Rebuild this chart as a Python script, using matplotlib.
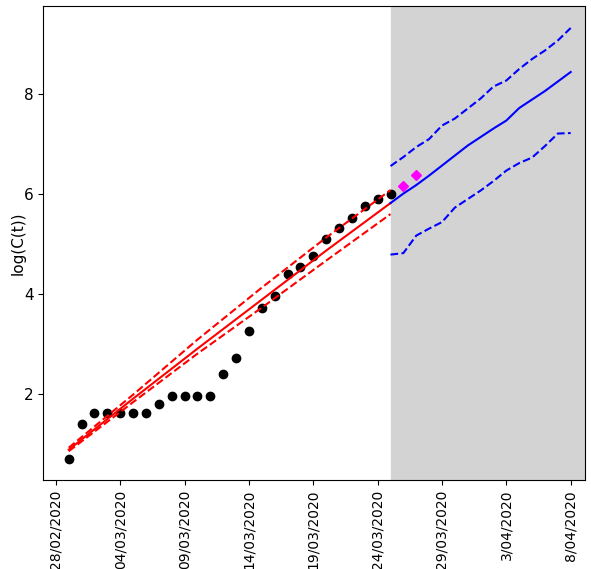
import numpy as np
import matplotlib
matplotlib.use('Agg')
import matplotlib.pyplot as plt

# Dias contados desde 28/02/2020
dias_obs = np.arange(1, 27)
casos_log = [0.69, 1.39, 1.61, 1.61, 1.61, 1.61, 1.61, 1.79, 1.95, 1.95,
             1.95, 1.95, 2.40, 2.71, 3.26, 3.71, 3.95, 4.39, 4.53, 4.76,
             5.09, 5.31, 5.51, 5.75, 5.90, 5.99]

# Ajuste (curva central e limites)
dias_ajuste = [1, 6, 11, 16, 21, 26]
ajuste = [0.88, 1.90, 2.90, 3.88, 4.86, 5.81]
ajuste_sup = [0.92, 1.98, 3.08, 4.12, 5.12, 6.07]
ajuste_inf = [0.85, 1.83, 2.80, 3.72, 4.66, 5.59]

# Previsao
dias_prev = np.arange(26, 41)
prev = [5.81, 6.00, 6.17, 6.36, 6.56, 6.76, 6.96, 7.13, 7.30, 7.46,
        7.71, 7.88, 8.05, 8.24, 8.43]
prev_sup = [6.55, 6.73, 6.93, 7.09, 7.36, 7.50, 7.70, 7.90, 8.14, 8.26,
            8.49, 8.69, 8.86, 9.06, 9.31]
prev_inf = [4.78, 4.81, 5.16, 5.30, 5.43, 5.72, 5.89, 6.06, 6.25, 6.46,
            6.61, 6.72, 6.95, 7.20, 7.21]

# Novos dados confirmados
dias_novos = [27, 28]
novos_log = [6.16, 6.37]

ticks_x = np.arange(0, 41, 5)
labels_x = ['28/02/2020', '04/03/2020', '09/03/2020', '14/03/2020', '19/03/2020',
            '24/03/2020', '29/03/2020', '3/04/2020', '8/04/2020']

fig = plt.figure(figsize=(5.91, 5.69), dpi=100)
ax = fig.add_axes([0.0736, 0.156, 0.916, 0.8335])

xmin, xmax = -0.96, 41.1
ax.axvspan(26, xmax, color='lightgray', zorder=0)

ax.plot(dias_obs, casos_log, 'ko')
ax.plot(dias_ajuste, ajuste, 'r-', lw=1.5)
ax.plot(dias_ajuste, ajuste_sup, 'r--', lw=1.5)
ax.plot(dias_ajuste, ajuste_inf, 'r--', lw=1.5)
ax.plot(dias_prev, prev, 'b-', lw=1.5)
ax.plot(dias_prev, prev_sup, 'b--', lw=1.5)
ax.plot(dias_prev, prev_inf, 'b--', lw=1.5)
ax.plot(dias_novos, novos_log, 'D', color='magenta', ms=5)

ax.set_xlim(xmin, xmax)
ax.set_ylim(0.27, 9.75)
ax.set_xticks(ticks_x)
ax.set_xticklabels(labels_x, rotation=90, fontsize=10)
ax.set_yticks([2, 4, 6, 8])
ax.tick_params(axis='y', labelsize=11)
ax.set_ylabel('log(C(t))', fontsize=11, labelpad=-1)

plt.savefig('out.png', dpi=100)
